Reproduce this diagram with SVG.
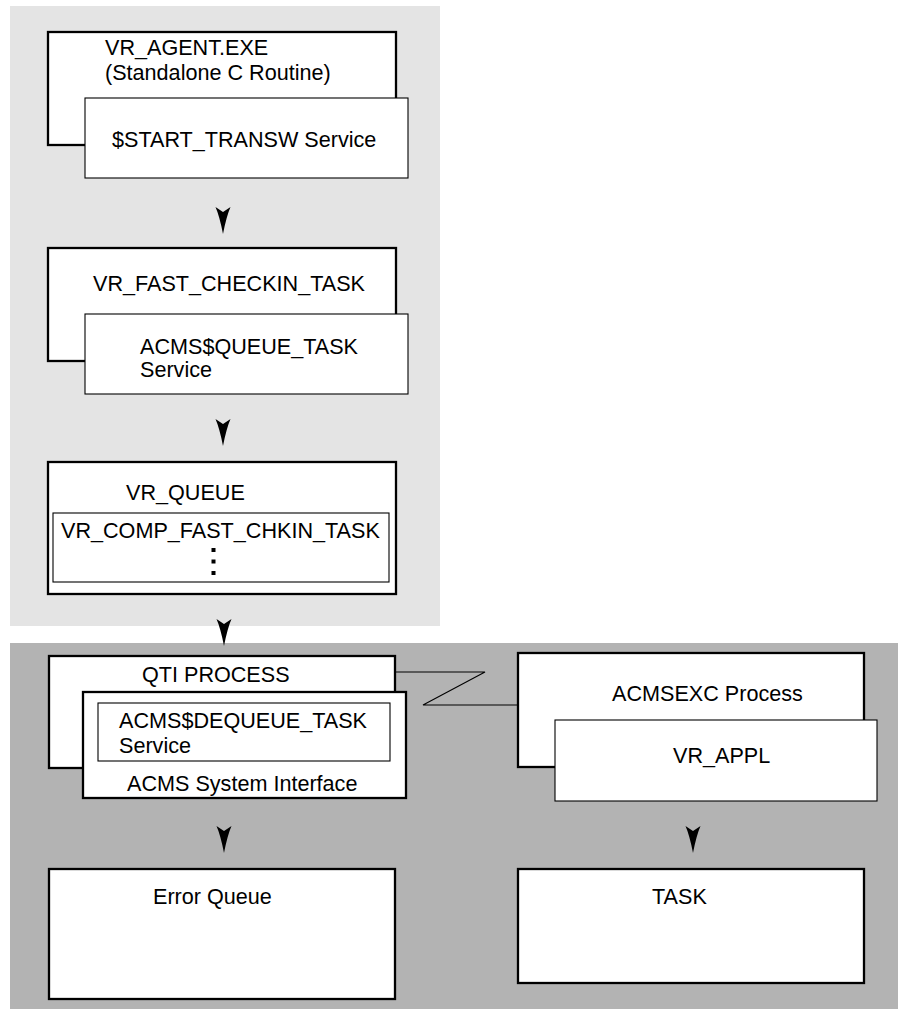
<svg xmlns="http://www.w3.org/2000/svg" xmlns:xlink="http://www.w3.org/1999/xlink" width="898" height="1009" viewBox="0 0 898 1009">
<style>
text{font-family:"Liberation Sans",Arial,sans-serif;font-size:21.6px;fill:#000}
.thick{fill:#fff;stroke:#000;stroke-width:2.3}
.thin{fill:#fff;stroke:#000;stroke-width:1.1}
.inner{fill:none;stroke:#000;stroke-width:1.1}
.conn{fill:none;stroke:#000;stroke-width:1.1}
</style>
<defs>
<path id="ah" d="M -7.5 0 L 0 5 L 7.5 0 Q 3.5 9 0 27 Q -3.5 9 -7.5 0 Z" fill="#000"/>
</defs>
<g id="panels">
<rect x="10" y="6" width="430" height="620" fill="#e4e4e4"/>
<rect x="10" y="643" width="888" height="366" fill="#b3b3b3"/>
</g>
<g id="agent">
<rect class="thick" x="48" y="32" width="348" height="113"/>
<text x="105" y="55">VR_AGENT.EXE</text>
<text x="105" y="80">(Standalone C Routine)</text>
</g>
<g id="start-transw">
<rect class="thin" x="85" y="98" width="323" height="80"/>
<text x="112" y="147">$START_TRANSW Service</text>
</g>
<g id="fast-checkin">
<rect class="thick" x="48" y="248" width="348" height="113"/>
<text x="93" y="291">VR_FAST_CHECKIN_TASK</text>
</g>
<g id="queue-task">
<rect class="thin" x="85" y="314" width="323" height="80"/>
<text x="140" y="354">ACMS$QUEUE_TASK</text>
<text x="140" y="377">Service</text>
</g>
<g id="vr-queue">
<rect class="thick" x="48" y="462" width="348" height="132"/>
<text x="126" y="500">VR_QUEUE</text>
<rect class="inner" x="53" y="513" width="336" height="69"/>
<text x="61" y="538">VR_COMP_FAST_CHKIN_TASK</text>
<rect x="211.5" y="548" width="4" height="4" fill="#000"/>
<rect x="211.5" y="559.5" width="4" height="4" fill="#000"/>
<rect x="211.5" y="571" width="4" height="4" fill="#000"/>
</g>
<g id="qti">
<rect class="thick" x="49" y="656" width="346" height="112"/>
<text x="142" y="682">QTI PROCESS</text>
</g>
<g id="acms-sys">
<rect class="thick" x="83" y="692" width="323" height="106"/>
<rect class="inner" x="98" y="703" width="292" height="58"/>
<text x="119" y="728">ACMS$DEQUEUE_TASK</text>
<text x="119" y="753">Service</text>
<text x="127" y="791">ACMS System Interface</text>
</g>
<g id="acmsexc">
<rect class="thick" x="518" y="653" width="346" height="114"/>
<text x="612" y="701">ACMSEXC Process</text>
</g>
<g id="vr-appl">
<rect class="thin" x="555" y="720" width="322" height="81"/>
<text x="673" y="763">VR_APPL</text>
</g>
<g id="error-queue">
<rect class="thick" x="49" y="869" width="346" height="130"/>
<text x="153" y="904">Error Queue</text>
</g>
<g id="task">
<rect class="thick" x="518" y="869" width="346" height="114"/>
<text x="652" y="904">TASK</text>
</g>
<g id="connectors">
<polyline class="conn" points="395,672 485,672 423,705 518,705"/>
<use xlink:href="#ah" x="223" y="207"/>
<use xlink:href="#ah" x="223" y="419"/>
<use xlink:href="#ah" x="224" y="619"/>
<use xlink:href="#ah" x="224" y="826"/>
<use xlink:href="#ah" x="693" y="826"/>
</g>
</svg>
